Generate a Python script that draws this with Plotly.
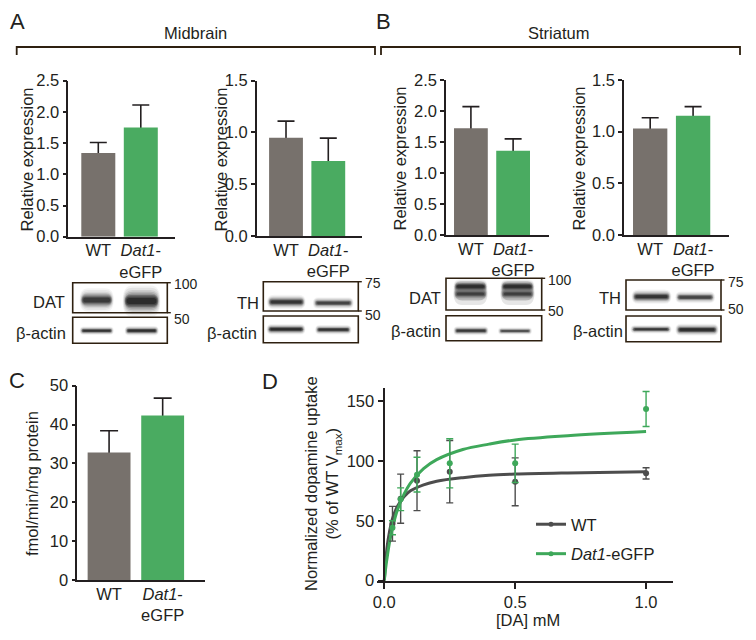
import plotly.graph_objects as go

W, H = 756, 640
FONT = "Liberation Sans, Arial, sans-serif"
INK = "#231f20"
BROWN = "#2e2010"
GREY = "#77716c"
GREEN = "#4aab61"
D_GREY = "#4d4d4d"
D_GREEN = "#3ea85a"

# ---------------- data ----------------
groups = ["WT", "Dat1-eGFP"]
group_ticktext = ["WT", "<i>Dat1</i>-<br>eGFP"]

mid_dat_mean = [1.34, 1.75]
mid_dat_err = [0.17, 0.36]
mid_th_mean = [0.95, 0.725]
mid_th_err = [0.16, 0.22]
str_dat_mean = [1.72, 1.36]
str_dat_err = [0.35, 0.19]
str_th_mean = [1.03, 1.155]
str_th_err = [0.105, 0.087]
uptake_mean = [32.8, 42.3]
uptake_err = [5.6, 4.5]

da_conc = [0.03125, 0.0625, 0.125, 0.25, 0.5, 1.0]
wt_uptake = [47.5, 68.5, 83.5, 91, 82.5, 89.6]
wt_uptake_err = [14.5, 20.5, 25, 26, 20, 4.7]
gfp_uptake = [44.2, 68, 88.5, 98, 98, 143.3]
gfp_uptake_err = [5.8, 9.5, 14.5, 20.5, 16, 14.6]

fit_x = [0, 0.005, 0.01, 0.02, 0.03, 0.05, 0.075, 0.1, 0.15, 0.2, 0.3, 0.4, 0.5, 0.7, 1.0]
wt_fit = [0, 15, 27, 41, 51, 62, 70, 75, 80, 83, 86, 88, 89, 90, 91]
gfp_fit = [0, 10, 18, 32, 43, 59, 72, 81.5, 93.5, 101, 109.5, 114, 117.5, 121, 124.5]


def px(x):
    return x / W


def py(y):
    return 1 - y / H


fig = go.Figure()

bar_panels = [
    (1, mid_dat_mean, mid_dat_err, (68.3, 175), (80.7, 236.7), [-0.706, 1.805], [0, 2.5], [0, 0.5, 1.0, 1.5, 2.0, 2.5], 8.5, ".1f"),
    (2, mid_th_mean, mid_th_err, (256.7, 361.7), (80.7, 236), [-0.693, 1.79], [0, 1.5], [0, 0.5, 1.0, 1.5], 8.5, ".1f"),
    (3, str_dat_mean, str_dat_err, (446, 549), (80, 235), [-0.59, 1.85], [0, 2.5], [0, 0.5, 1.0, 1.5, 2.0, 2.5], 8.5, ".1f"),
    (4, str_th_mean, str_th_err, (624, 728.7), (80, 235), [-0.61, 1.83], [0, 1.5], [0, 0.5, 1.0, 1.5], 8.5, ".1f"),
    (5, uptake_mean, uptake_err, (77.3, 205), (385.7, 580), [-0.593, 1.79], [0, 50], [0, 10, 20, 30, 40, 50], 9, "d"),
]

layout_axes = {}
for idx, means, errs, (xl, xr), (yt, yb), xr_, yr_, yt_, cap, fmt in bar_panels:
    sfx = "" if idx == 1 else str(idx)
    # error bars (lower half hidden behind the bars drawn next)
    fig.add_trace(go.Bar(
        x=[0, 1], y=means, width=0.8,
        marker=dict(color="rgba(0,0,0,0)", line=dict(width=0)),
        error_y=dict(type="data", array=errs, color=INK, thickness=1.6, width=cap),
        xaxis="x" + sfx, yaxis="y" + sfx, showlegend=False, hoverinfo="skip",
    ))
    fig.add_trace(go.Bar(
        x=[0, 1], y=means, width=0.8,
        marker=dict(color=[GREY, GREEN], line=dict(width=0)),
        xaxis="x" + sfx, yaxis="y" + sfx, showlegend=False,
        hovertext=groups,
    ))
    layout_axes["xaxis" + sfx] = dict(
        domain=[px(xl), px(xr)], range=xr_, anchor="y" + sfx,
        tickvals=[0, 1], ticktext=group_ticktext, ticks="", ticklabelstandoff=-2,
        showline=True, linecolor=INK, linewidth=1.6, showgrid=False, zeroline=False,
        tickfont=dict(family=FONT, size=16.5, color=INK), automargin=False,
    )
    layout_axes["yaxis" + sfx] = dict(
        domain=[py(yb), py(yt)], range=yr_, anchor="x" + sfx,
        tickvals=yt_, tickformat=fmt, ticks="outside", ticklen=4, tickwidth=1.6, tickcolor=INK,
        showline=True, linecolor=INK, linewidth=1.6, showgrid=False, zeroline=False,
        tickfont=dict(family=FONT, size=16.5, color=INK), automargin=False,
    )

# ---------------- panel D ----------------
fig.add_trace(go.Scatter(x=fit_x, y=wt_fit, mode="lines", line=dict(color=D_GREY, width=3, shape="spline"),
                         xaxis="x6", yaxis="y6", showlegend=False, cliponaxis=False))
fig.add_trace(go.Scatter(x=fit_x, y=gfp_fit, mode="lines", line=dict(color=D_GREEN, width=3, shape="spline"),
                         xaxis="x6", yaxis="y6", showlegend=False, cliponaxis=False))
fig.add_trace(go.Scatter(x=da_conc, y=wt_uptake, mode="markers", marker=dict(color=D_GREY, size=6),
                         error_y=dict(type="data", array=wt_uptake_err, color=D_GREY, thickness=1.4, width=3.5),
                         xaxis="x6", yaxis="y6", showlegend=False))
fig.add_trace(go.Scatter(x=da_conc, y=gfp_uptake, mode="markers", marker=dict(color=D_GREEN, size=6),
                         error_y=dict(type="data", array=gfp_uptake_err, color=D_GREEN, thickness=1.4, width=3.5),
                         xaxis="x6", yaxis="y6", showlegend=False))
fig.add_trace(go.Scatter(x=[None], y=[None], mode="lines+markers", name="WT",
                         line=dict(color=D_GREY, width=3), marker=dict(color=D_GREY, size=5),
                         xaxis="x6", yaxis="y6", legendgroup="a"))
fig.add_trace(go.Scatter(x=[None], y=[None], mode="lines+markers", name="<i>Dat1</i>-eGFP",
                         line=dict(color=D_GREEN, width=3), marker=dict(color=D_GREEN, size=5),
                         xaxis="x6", yaxis="y6", legendgroup="b"))

layout_axes["xaxis6"] = dict(
    domain=[px(376.7), px(673.3)], range=[-0.029, 1.104], anchor="y6",
    tickvals=[0, 0.5, 1.0], tickformat=".1f", ticks="outside", ticklen=6, tickwidth=1.6, tickcolor=INK,
    showline=True, linecolor=INK, linewidth=1.6, showgrid=False, zeroline=False,
    tickfont=dict(family=FONT, size=16.5, color=INK), automargin=False,
)
layout_axes["yaxis6"] = dict(
    domain=[py(580.7), py(388.3)], range=[0, 160.6], anchor="free", position=px(384.3),
    tickvals=[0, 50, 100, 150], ticks="outside", ticklen=6, tickwidth=1.6, tickcolor=INK,
    showline=True, linecolor=INK, linewidth=1.6, showgrid=False, zeroline=False,
    tickfont=dict(family=FONT, size=16.5, color=INK), automargin=False,
)

ann = []


def text(x, y, s, size=16.5, xanchor="center", angle=0):
    ann.append(dict(x=px(x), y=py(y), xref="paper", yref="paper", text=s, showarrow=False,
                    xanchor=xanchor, yanchor="middle", textangle=angle,
                    font=dict(family=FONT, size=size, color=INK)))


text(17, 21, "A", 22)
text(383, 21, "B", 22)
text(17, 380, "C", 22)
text(269.5, 381, "D", 22)
text(195, 33, "Midbrain")
text(558.7, 33, "Striatum")
text(26.5, 160, "Relative expression", angle=-90)
text(220.5, 160, "Relative expression", angle=-90)
text(399.5, 159, "Relative expression", angle=-90)
text(578.5, 159, "Relative expression", angle=-90)
text(32, 484, "fmol/min/mg protein", angle=-90)
text(323, 484, "Normalized dopamine uptake<br>(% of WT V<sub>max</sub>)", angle=-90)
text(528, 620, "[DA] mM")

shapes = []


def pline(points, color=BROWN, width=1.8):
    d = "M " + " L ".join(f"{px(x):.5f},{py(y):.5f}" for x, y in points)
    shapes.append(dict(type="path", path=d, xref="paper", yref="paper",
                       line=dict(color=color, width=width)))


def box(x0, y0, x1, y1):
    shapes.append(dict(type="rect", x0=px(x0), x1=px(x1), y0=py(y1), y1=py(y0), xref="paper", yref="paper",
                       line=dict(color=BROWN, width=1.6), fillcolor="rgba(0,0,0,0)"))


def blob(cx, cy, w, h, op):
    x0, x1 = cx - w / 2, cx + w / 2
    y0, y1 = cy - h / 2, cy + h / 2
    r = min(h / 2, w / 4)
    P = lambda x, y: f"{px(x):.5f},{py(y):.5f}"
    d = (f"M {P(x0 + r, y0)} L {P(x1 - r, y0)} Q {P(x1, y0)} {P(x1, cy)} Q {P(x1, y1)} {P(x1 - r, y1)} "
         f"L {P(x0 + r, y1)} Q {P(x0, y1)} {P(x0, cy)} Q {P(x0, y0)} {P(x0 + r, y0)} Z")
    shapes.append(dict(type="path", path=d, xref="paper", yref="paper",
                       fillcolor=f"rgba(10,10,10,{op:.3f})", line=dict(width=0)))


def band(cx, cy, w, h, s):
    for sx, sy, op in [(1.14, 2.6, 0.05), (1.11, 2.2, 0.07), (1.08, 1.85, 0.09), (1.05, 1.55, 0.13),
                       (1.02, 1.25, 0.2), (1.0, 1.0, 0.28), (0.96, 0.75, 0.38), (0.9, 0.5, 0.45)]:
        blob(cx, cy, w * sx, max(h * sy, 1.2), op * s)


def marker_tick(x, y, label, ty):
    pline([(x, y), (x + 3.5, y)], width=1.4)
    ann.append(dict(x=px(x + 4.5), y=py(ty), xref="paper", yref="paper", text=label, showarrow=False,
                    xanchor="left", yanchor="middle", font=dict(family=FONT, size=14, color=INK)))


def label_left(x, y, s):
    ann.append(dict(x=px(x), y=py(y), xref="paper", yref="paper", text=s, showarrow=False,
                    xanchor="right", yanchor="middle", font=dict(family=FONT, size=16.5, color=INK)))


pline([(16.7, 55), (16.7, 47), (375, 47), (375, 55)])
pline([(381, 55), (381, 47), (740, 47), (740, 55)])

box(72.7, 282.7, 167.3, 312.7)
band(96.7, 300, 30, 9, 0.85)
band(141.5, 301, 33, 12, 1.0)
box(72.7, 317.3, 167.3, 343.3)
band(96.7, 330.7, 30, 3.2, 0.9)
band(141.7, 330.7, 30, 3.6, 0.95)
label_left(67, 301.7, "DAT")
label_left(68, 332.7, "β-actin")
marker_tick(167.3, 282.7, "100", 283.5)
marker_tick(167.3, 312.7, "50", 319)

box(263.3, 281.7, 358.3, 311)
band(286.3, 302, 34, 5.5, 0.9)
band(333.3, 303, 36, 4.5, 0.75)
box(263.3, 316, 358.3, 342.7)
band(286, 329.3, 34, 4, 1.0)
band(333.3, 329.7, 32, 3.6, 0.9)
label_left(261, 303, "TH")
label_left(259, 332.7, "β-actin")
marker_tick(358.3, 281.7, "75", 282.5)
marker_tick(358.3, 311, "50", 315)

box(446, 278.3, 541.7, 310)
for cx in (470.5, 517.5):
    blob(cx, 293, 34, 24, 0.10)
    blob(cx, 292, 32, 17, 0.16)
    band(cx, 286.5, 30, 5.5, 0.85)
    band(cx, 294, 30, 5, 0.65)
box(446, 315.7, 541.7, 340.7)
band(471, 330.7, 31, 3.5, 0.85)
band(515, 331, 30, 2.8, 0.7)
label_left(443, 298.3, "DAT")
label_left(443, 331, "β-actin")
marker_tick(541.7, 278.3, "100", 279.5)
marker_tick(541.7, 310, "50", 311)

box(626, 280, 721, 310)
band(651.5, 296.7, 35, 5.5, 0.9)
band(695.2, 297.3, 35, 4.5, 0.75)
box(626, 316, 721, 341.7)
band(651, 329.3, 36, 3.2, 0.85)
band(697, 329.7, 38, 4.5, 1.0)
label_left(623, 298.3, "TH")
label_left(625, 330.7, "β-actin")
marker_tick(721, 280, "75", 281.7)
marker_tick(721, 310, "50", 309)

fig.update_layout(
    width=W, height=H, margin=dict(l=0, r=0, t=0, b=0, pad=0, autoexpand=False),
    paper_bgcolor="white", plot_bgcolor="white",
    font=dict(family=FONT, size=16.5, color=INK),
    barmode="overlay",
    showlegend=True,
    legend=dict(x=px(531), y=py(507), xanchor="left", yanchor="top", bgcolor="rgba(0,0,0,0)",
                font=dict(family=FONT, size=16.5, color=INK), traceorder="grouped", tracegroupgap=5,
                itemwidth=30),
    annotations=ann, shapes=shapes,
    **layout_axes,
)

fig.write_html("out.html", config={"displayModeBar": False},
               post_script="document.body.style.margin='0px';document.body.style.padding='0px';")
